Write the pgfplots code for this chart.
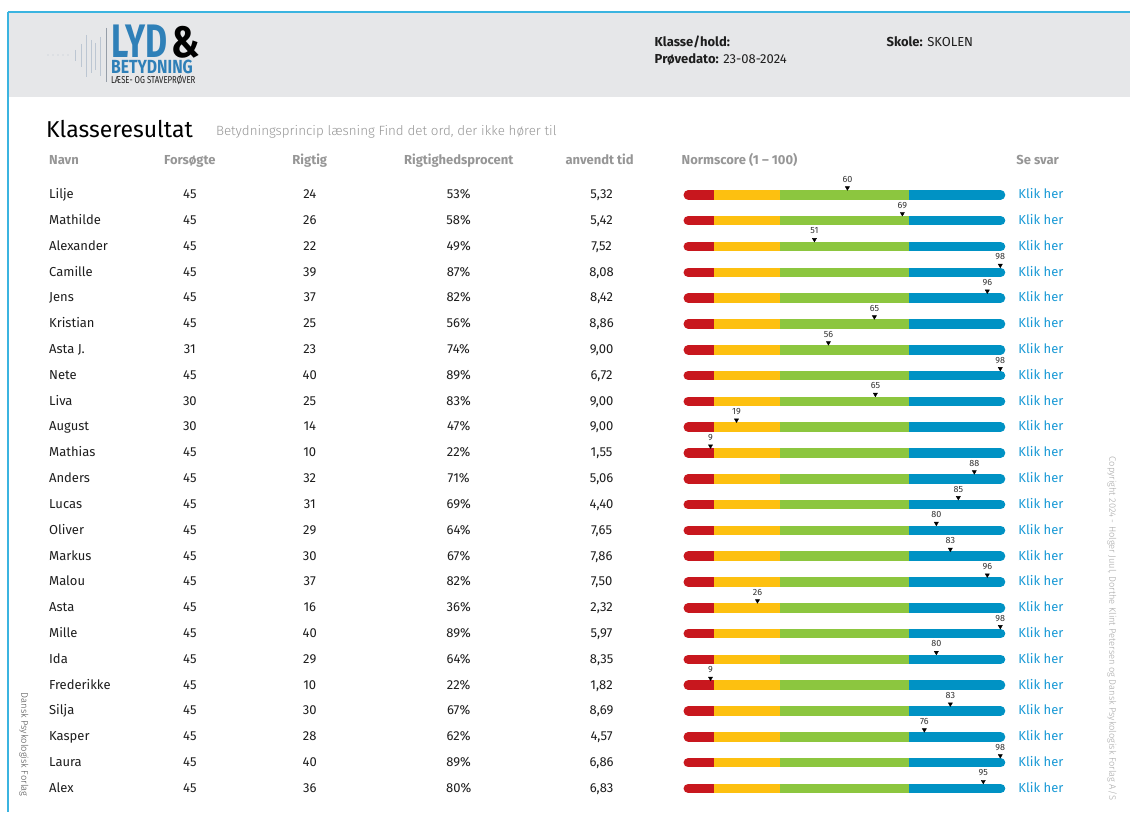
\documentclass[border=0pt]{standalone}
\usepackage{pgfplots}
\pgfplotsset{compat=1.18}
\usepackage{pgfplotstable}
\usepackage{fontspec}
\setmainfont{Fira Sans}
\newfontfamily\light{Fira Sans Light}
\definecolor{barred}{HTML}{C8171E}
\definecolor{baryel}{HTML}{FDC010}
\definecolor{bargrn}{HTML}{8CC63F}
\definecolor{barblu}{HTML}{0092C4}
\definecolor{linkc}{HTML}{1A9AD6}
\definecolor{hdrgrey}{HTML}{E6E7E9}
\definecolor{framec}{HTML}{3BB4E0}
\definecolor{logoblue}{HTML}{2F80B8}
\definecolor{colhead}{HTML}{969696}
\definecolor{txtc}{HTML}{1E1E1E}
\definecolor{wave}{HTML}{BCC6D2}

\pgfplotstableread[col sep=semicolon]{
name;try;right;pct;time;score;mx;y
Lilje;45;24;53;5,32;60;848;194.0
Mathilde;45;26;58;5,42;69;903;219.8
Alexander;45;22;49;7,52;51;815;245.7
Camille;45;39;87;8,08;98;1001;271.5
Jens;45;37;82;8,42;96;988;297.3
Kristian;45;25;56;8,86;65;875;323.1
Asta J.;31;23;74;9,00;56;829;349.0
Nete;45;40;89;6,72;98;1001;374.8
Liva;30;25;83;9,00;65;876;400.6
August;30;14;47;9,00;19;737;426.4
Mathias;45;10;22;1,55;9;711;452.3
Anders;45;32;71;5,06;88;975;478.1
Lucas;45;31;69;4,40;85;959;503.9
Oliver;45;29;64;7,65;80;937;529.7
Markus;45;30;67;7,86;83;951;555.6
Malou;45;37;82;7,50;96;988;581.4
Asta;45;16;36;2,32;26;758;607.2
Mille;45;40;89;5,97;98;1001;633.0
Ida;45;29;64;8,35;80;937;658.9
Frederikke;45;10;22;1,82;9;711;684.7
Silja;45;30;67;8,69;83;951;710.5
Kasper;45;28;62;4,57;76;925;736.3
Laura;45;40;89;6,86;98;1001;762.2
Alex;45;36;80;6,83;95;984;788.0
}\tbl

\pgfplotsset{
  txt/.style={only marks, mark=*, mark size=0pt, mark options={draw=none,fill=none},
    point meta=explicit symbolic, nodes near coords,
    nodes near coords align=center,
    every node near coord/.append style={inner sep=0pt, font=\fontsize{13}{15}\selectfont, text=txtc, #1}},
}

\begin{document}
\begin{tikzpicture}
\begin{axis}[scale only axis, width=1131pt, height=813pt,
  xmin=0, xmax=1131, ymin=0, ymax=813, y dir=reverse,
  hide axis, clip=false]
\fill[white] (axis cs:0,0) rectangle (axis cs:1131,813);
% header
\fill[hdrgrey] (axis cs:9,13) rectangle (axis cs:1131,97);
\draw[framec, line width=1.6pt] (axis cs:8,12) -- (axis cs:1131,12);
\draw[framec, line width=1.2pt] (axis cs:8,12) -- (axis cs:8,813);
% logo waveform
\pgfplotsinvokeforeach{48,53,58,63,68}{\fill[wave] (axis cs:#1,55) circle (0.6pt);}
\draw[wave, line width=1pt] (axis cs:76,50) -- (axis cs:76,61);
\draw[wave, line width=1pt] (axis cs:82,44) -- (axis cs:82,67);
\draw[wave, line width=1pt] (axis cs:87,35) -- (axis cs:87,77);
\draw[wave, line width=1pt] (axis cs:92,40) -- (axis cs:92,73);
\draw[wave, line width=1pt] (axis cs:96,43) -- (axis cs:96,70);
\draw[wave, line width=1pt] (axis cs:101,37) -- (axis cs:101,76);
\draw[wave!80!black, line width=1pt] (axis cs:107,28) -- (axis cs:107,82);
\node[anchor=base west, inner sep=0pt, xscale=0.72, text=logoblue, font=\fontsize{47}{47}\selectfont\bfseries] at (axis cs:111,58) {LYD};
\node[anchor=base west, inner sep=0pt, xscale=0.85, text=black, font=\fontsize{44}{44}\selectfont\bfseries] at (axis cs:171,58) {\&};
\node[anchor=base west, inner sep=0pt, xscale=0.83, text=logoblue, font=\fontsize{19}{19}\selectfont\bfseries] at (axis cs:111,73.5) {BETYDNING};
\node[anchor=base west, inner sep=0pt, xscale=0.78, text=txtc, font=\fontsize{10}{10}\selectfont] at (axis cs:111,83.5) {LÆSE- OG STAVEPRØVER};
% header info
\node[anchor=base west, inner sep=0pt, text=txtc, font=\fontsize{13}{15}\selectfont] at (axis cs:655,46.5) {\textbf{Klasse/hold:}};
\node[anchor=base west, inner sep=0pt, text=txtc, font=\fontsize{13}{15}\selectfont] at (axis cs:655,63.5) {\textbf{Prøvedato:} 23-08-2024};
\node[anchor=base west, inner sep=0pt, text=txtc, font=\fontsize{13}{15}\selectfont] at (axis cs:887,46.5) {\textbf{Skole:} SKOLEN};
% title
\node[anchor=base west, inner sep=0pt, text=black, font=\fontsize{23}{25}\selectfont] at (axis cs:46,137.5) {Klasseresultat};
\node[anchor=base west, inner sep=0pt, text=colhead, font=\fontsize{13.4}{16}\selectfont\light] at (axis cs:216,136) {Betydningsprincip læsning Find det ord, der ikke hører til};
% column headers
\node[anchor=base west, inner sep=0pt, text=colhead, font=\fontsize{13}{15}\selectfont\bfseries] at (axis cs:49,164.5) {Navn};
\node[anchor=base, inner sep=0pt, text=colhead, font=\fontsize{13}{15}\selectfont\bfseries] at (axis cs:190,164.5) {Forsøgte};
\node[anchor=base, inner sep=0pt, text=colhead, font=\fontsize{13}{15}\selectfont\bfseries] at (axis cs:310,164.5) {Rigtig};
\node[anchor=base, inner sep=0pt, text=colhead, font=\fontsize{13}{15}\selectfont\bfseries] at (axis cs:459,164.5) {Rigtighedsprocent};
\node[anchor=base, inner sep=0pt, text=colhead, font=\fontsize{13}{15}\selectfont\bfseries] at (axis cs:600,164.5) {anvendt tid};
\node[anchor=base west, inner sep=0pt, text=colhead, font=\fontsize{13}{15}\selectfont\bfseries] at (axis cs:682,164.5) {Normscore (1 – 100)};
\node[anchor=base west, inner sep=0pt, text=colhead, font=\fontsize{13}{15}\selectfont\bfseries] at (axis cs:1017,164.5) {Se svar};
% bars
\pgfplotsinvokeforeach{194.0,219.8,245.7,271.5,297.3,323.1,349.0,374.8,400.6,426.4,452.3,478.1,503.9,529.7,555.6,581.4,607.2,633.0,658.9,684.7,710.5,736.3,762.2,788.0}{
  \addplot[barred, line width=9.6pt, line cap=round] coordinates {(688.8,#1+1) (714,#1+1)};
  \addplot[barblu, line width=9.6pt, line cap=round] coordinates {(910,#1+1) (1001.2,#1+1)};
  \addplot[baryel, line width=9.6pt] coordinates {(714,#1+1) (781,#1+1)};
  \addplot[bargrn, line width=9.6pt] coordinates {(781,#1+1) (910,#1+1)};
}
% markers
\addplot[only marks, mark=triangle*, mark size=2.4pt, mark options={rotate=180, fill=black, draw=black}] table[x=mx, y expr=\thisrow{y}-6] {\tbl};
\addplot[txt={anchor=center, font=\fontsize{9}{10}\selectfont, text=black!80}] table[x=mx, y expr=\thisrow{y}-14.5, meta=score] {\tbl};
% text columns
\addplot[txt={anchor=base west}] table[x expr=49, y expr=\thisrow{y}+4.8, meta=name] {\tbl};
\addplot[txt={anchor=base}] table[x expr=190, y expr=\thisrow{y}+4.8, meta=try] {\tbl};
\addplot[txt={anchor=base}] table[x expr=310, y expr=\thisrow{y}+4.8, meta=right] {\tbl};
\addplot[txt={anchor=base}, nodes near coords={\pgfplotspointmeta\%}] table[x expr=459, y expr=\thisrow{y}+4.8, meta=pct] {\tbl};
\addplot[txt={anchor=base}] table[x expr=602, y expr=\thisrow{y}+4.8, meta=time] {\tbl};
\addplot[txt={anchor=base west, text=linkc}, nodes near coords={Klik her}] table[x expr=1019, y expr=\thisrow{y}+4.8, meta=try] {\tbl};
% rotated notes
\node[rotate=-90, anchor=west, inner sep=0pt, text=black!35, font=\fontsize{9.3}{10}\selectfont\light] at (axis cs:1113,457) {Copyright 2024 - Holger Juul, Dorthe Klint Petersen og Dansk Psykologisk Forlag A/S};
\node[rotate=-90, anchor=west, inner sep=0pt, text=black!70, font=\fontsize{9.4}{10}\selectfont\light] at (axis cs:24,693) {Dansk Psykologisk Forlag};
\end{axis}
\end{tikzpicture}
\end{document}
